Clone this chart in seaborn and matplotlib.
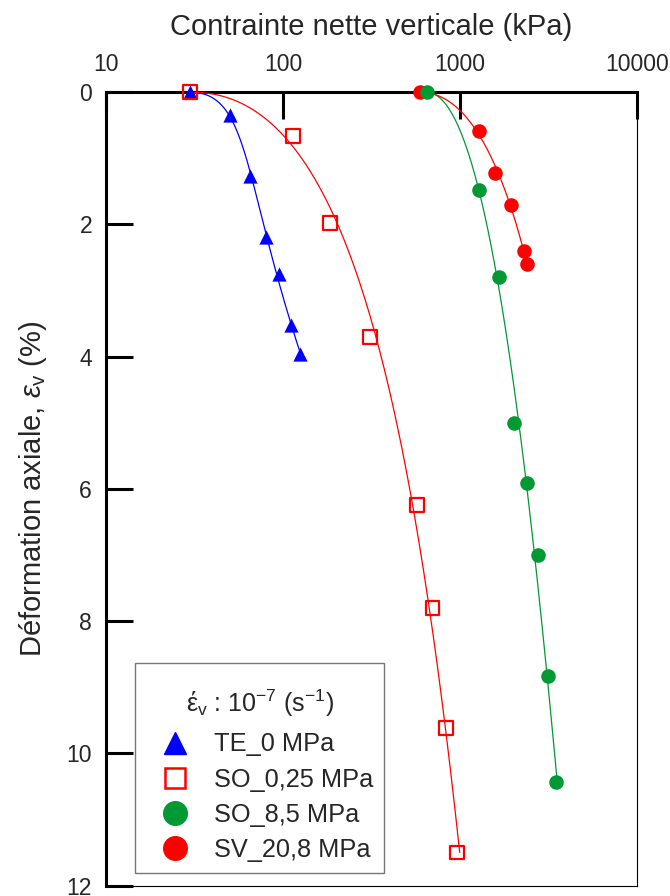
import numpy as np
import pandas as pd
import seaborn as sns
import matplotlib.pyplot as plt
from matplotlib.lines import Line2D
from matplotlib.offsetbox import DrawingArea

# values (stress in kPa, axial strain in %)
te_stress = [30, 50, 65, 80, 95, 111, 125]
te_strain = [0.0, 0.34, 1.26, 2.19, 2.75, 3.52, 3.96]

so025_stress = [30, 114, 185, 310, 575, 699, 836, 960]
so025_strain = [0.0, 0.66, 1.98, 3.70, 6.25, 7.80, 9.62, 11.50]

so85_stress = [648, 1279, 1651, 2017, 2388, 2756, 3123, 3498]
so85_strain = [0.0, 1.48, 2.79, 5.01, 5.91, 7.00, 8.83, 10.43]

sv_stress = [596, 1279, 1567, 1940, 2307, 2399]
sv_strain = [0.0, 0.58, 1.22, 1.70, 2.40, 2.60]

labels = ['TE_0 MPa', 'SO_0,25 MPa', 'SO_8,5 MPa', 'SV_20,8 MPa']
x_ticks = [10, 100, 1000, 10000]
y_ticks = [0, 2, 4, 6, 8, 10, 12]

sns.set_theme(style='white')
plt.rcParams['font.family'] = ['Liberation Sans', 'DejaVu Sans']
plt.rcParams['mathtext.fontset'] = 'custom'
plt.rcParams['mathtext.rm'] = 'Liberation Sans'
plt.rcParams['mathtext.it'] = 'Liberation Sans:italic'

BLUE = '#0000ff'
RED = '#ff0000'
GREEN = '#009933'


def fit_curve(stress, strain, deg, upto=None):
    # smooth trend: log10(stress) as a polynomial of sqrt(strain)
    t = np.sqrt(np.asarray(strain))
    coef = np.polyfit(t, np.log10(stress), deg)
    tmax = t.max() if upto is None else np.sqrt(upto)
    tt = np.linspace(0, tmax, 200)
    return pd.DataFrame({'x': 10 ** np.polyval(coef, tt), 'y': tt ** 2})


fig, ax = plt.subplots(figsize=(6.7, 8.96), dpi=100)
fig.subplots_adjust(left=0.1582, right=0.9507, top=0.897, bottom=0.0117)

series = [
    (te_stress, te_strain, BLUE, 3, None),
    (so025_stress, so025_strain, RED, 3, None),
    (so85_stress, so85_strain, GREEN, 3, None),
    (sv_stress, sv_strain, RED, 2, sv_strain[-2]),
]
for xs, ys, col, deg, upto in series:
    c = fit_curve(xs, ys, deg, upto)
    sns.lineplot(data=c, x='x', y='y', sort=False, estimator=None,
                 color=col, lw=0.9, ax=ax, zorder=3)

sns.scatterplot(x=te_stress, y=te_strain, marker='^', s=105, color=BLUE,
                linewidth=0, ax=ax, zorder=5, clip_on=False)
sns.scatterplot(x=so025_stress, y=so025_strain, marker='s', s=100,
                facecolor='none', edgecolor=RED, linewidth=1.6, ax=ax,
                zorder=5, clip_on=False)
sns.scatterplot(x=so85_stress, y=so85_strain, marker='o', s=110, color=GREEN,
                linewidth=0, ax=ax, zorder=5, clip_on=False)
sns.scatterplot(x=sv_stress, y=sv_strain, marker='o', s=110, color=RED,
                linewidth=0, ax=ax, zorder=4, clip_on=False)

ax.set_xscale('log')
ax.set_xlim(10, 10000)
ax.set_ylim(12, 0)
ax.set_xticks(x_ticks)
ax.set_xticklabels([str(v) for v in x_ticks])
ax.minorticks_off()
ax.set_yticks(y_ticks)
ax.set_yticklabels([str(v) for v in y_ticks])

ax.xaxis.set_label_position('top')
ax.tick_params(axis='x', direction='in', length=19.5, width=2.2, top=True,
               bottom=False, labeltop=True, labelbottom=False, pad=12,
               labelsize=16.5, color='black')
ax.tick_params(axis='y', direction='in', length=19.5, width=2.2, left=True,
               right=False, pad=10, labelsize=16.5, color='black')

for side in ['top', 'left']:
    ax.spines[side].set_linewidth(2.2)
for side in ['right', 'bottom']:
    ax.spines[side].set_linewidth(0.8)
for sp in ax.spines.values():
    sp.set_color('black')
    sp.set_visible(True)

ax.set_xlabel('Contrainte nette verticale (kPa)', fontsize=21, labelpad=13)
ax.set_ylabel(r'Déformation axiale, $\varepsilon_{\rm v}$ (%)', fontsize=21,
              labelpad=13)

handles = [
    Line2D([], [], ls='none', marker='^', ms=16, color=BLUE, mec=BLUE),
    Line2D([], [], ls='none', marker='s', ms=15, mfc='none', mec=RED, mew=1.8),
    Line2D([], [], ls='none', marker='o', ms=17, color=GREEN, mec=GREEN),
    Line2D([], [], ls='none', marker='o', ms=17, color=RED, mec=RED),
]
leg = ax.legend(handles, labels, loc='lower left',
                bbox_to_anchor=(0.0546, 0.0164), fontsize=18.3,
                title='έ$_{\\rm v}$ : 10$^{-7}$ (s$^{-1}$)', title_fontsize=18,
                frameon=True, fancybox=False, framealpha=1,
                edgecolor='#777777', borderpad=0.42, labelspacing=0.44,
                handletextpad=0.41, handlelength=2.3, borderaxespad=0)
leg.get_frame().set_linewidth(1.0)
# extra room above and below the legend title (empty spacer on top)
leg._legend_box.sep = 10
leg._legend_box.pad = 7.6
leg._legend_box._children.insert(0, DrawingArea(0, 0))

fig.savefig('out.png', dpi=100)
